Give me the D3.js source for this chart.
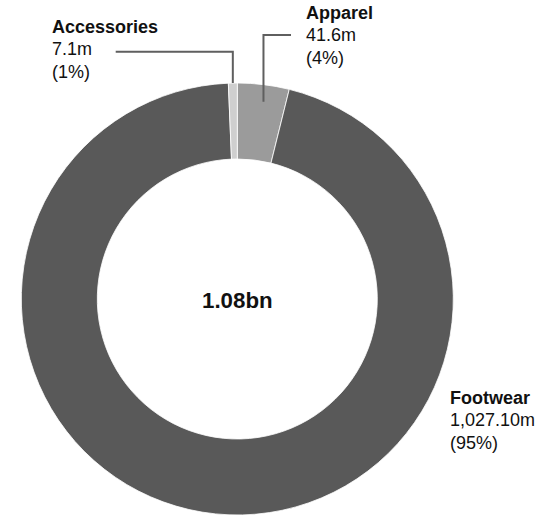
<!DOCTYPE html>
<html><head><meta charset="utf-8">
<script src="https://cdn.jsdelivr.net/npm/d3@7"></script>
<style>body{margin:0;background:#fff;font-family:Arial,"Liberation Sans",sans-serif;}</style>
</head><body><svg id="c" width="552" height="517"></svg>
<script>
const categories = ["Apparel", "Footwear", "Accessories"];
const values = [41.6, 1027.1, 7.1];
const valueLabels = ["41.6m", "1,027.10m", "7.1m"];
const pctLabels = ["(4%)", "(95%)", "(1%)"];
const totalLabel = "1.08bn";
const colors = ["#9b9b9b", "#595959", "#cfcfcf"];

const W = 552, H = 517, cx = 237.3, cy = 299, R = 216, r = 140;
const svg = d3.select("#c");
const g = svg.append("g").attr("transform", `translate(${cx},${cy})`);
const data = categories.map((c, i) => ({c, v: values[i], i}));
const pie = d3.pie().value(d => d.v).sort(null);
const arcs = pie(data);
const arc = d3.arc().innerRadius(r).outerRadius(R);
g.selectAll("path").data(arcs).join("path")
  .attr("d", arc).attr("fill", d => colors[d.data.i])
  .attr("stroke", "#fff").attr("stroke-width", 0.8);

g.append("text").attr("x", 0).attr("y", 9.3).attr("text-anchor", "middle")
  .attr("font-weight", "bold").attr("font-size", 22.3).attr("fill", "#111").text(totalLabel);

// label layout (positions only)
const layout = {
  Apparel: {x: 306, y: 18.5, leader: {ly: 35, lx: 291, rEnd: 198.7}},
  Footwear: {x: 450, y: 403.5, leader: null},
  Accessories: {x: 52, y: 32.5, leader: {ly: 51.7, lx: 115.7, rEnd: 216}}
};
arcs.forEach(a => {
  const L = layout[a.data.c];
  const i = a.data.i;
  const t = svg.append("text").attr("font-size", 18).attr("fill", "#111");
  t.append("tspan").attr("x", L.x).attr("y", L.y).attr("font-weight", "bold").text(a.data.c);
  t.append("tspan").attr("x", L.x).attr("y", L.y + 22.5).text(valueLabels[i]);
  t.append("tspan").attr("x", L.x).attr("y", L.y + 45).text(pctLabels[i]);
  if (L.leader) {
    const mid = (a.startAngle + a.endAngle) / 2;
    const px = cx + L.leader.rEnd * Math.sin(mid);
    const py = cy - L.leader.rEnd * Math.cos(mid);
    const lineX = cx + R * Math.sin(mid);
    svg.append("path")
      .attr("d", `M${L.leader.lx},${L.leader.ly}H${lineX}V${py}`)
      .attr("fill", "none").attr("stroke", "#5f5f5f").attr("stroke-width", 2);
  }
});
</script></body></html>
